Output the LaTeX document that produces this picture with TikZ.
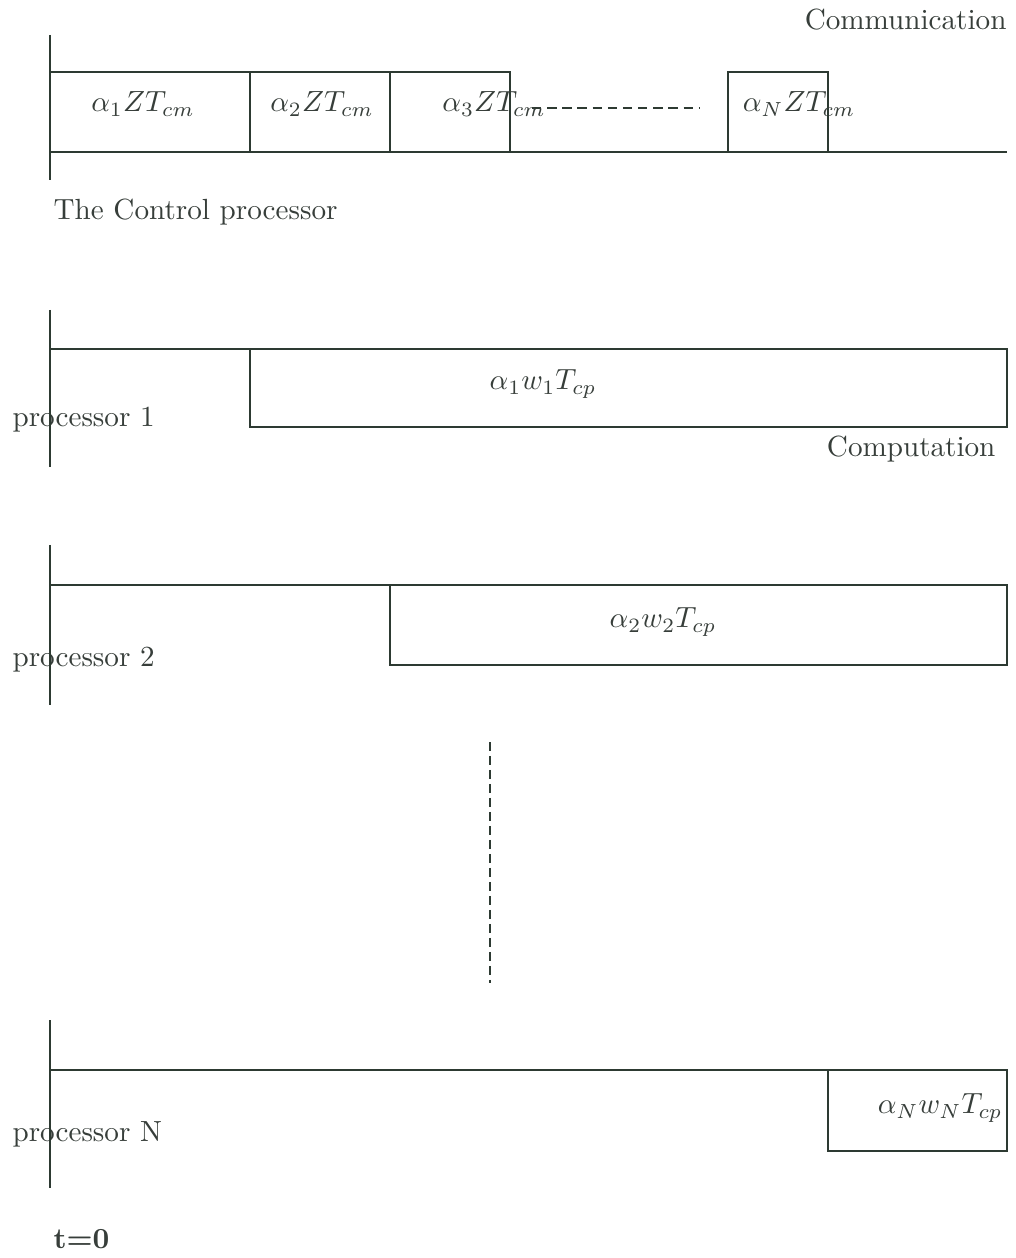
\documentclass[tikz,border=0pt]{standalone}
\usepackage{amsmath}
\begin{document}
\begin{tikzpicture}[x=0.343pt,y=-0.343pt,
  ln/.style={line width=0.6pt,draw=linecol},
  lbl/.style={text=txtcol,inner sep=0pt},
  ]
\definecolor{linecol}{RGB}{45,58,50}
\definecolor{txtcol}{RGB}{55,62,58}
\useasboundingbox (0,0) rectangle (1015,1258);
% ---------- Control processor ----------
\node[lbl,anchor=base east] (comm) at (1007,30) {Communication};
\draw[ln] (50,72) -- (510,72) -- (510,152);
\draw[ln] (250,72) -- (250,152);
\draw[ln] (390,72) -- (390,152);
\draw[ln] (728,152) -- (728,72) -- (828,72) -- (828,152);
\draw[ln] (50,152) -- (1007,152);
\draw[ln,dash pattern=on 3.2pt off 2pt] (532,108) -- (700,108);
\node[lbl] (c1) at (143,104) {$\alpha_1ZT_{cm}$};
\node[lbl] (c2) at (322,104) {$\alpha_2ZT_{cm}$};
\node[lbl] (c3) at (494,104) {$\alpha_3ZT_{cm}$};
\node[lbl] (cN) at (799,104) {$\alpha_NZT_{cm}$};
\draw[ln] (50,35) -- (50,180);
\node[lbl,anchor=base west] (ctrl) at (53,220) {The Control processor};
% ---------- processor 1 ----------
\draw[ln] (50,349) -- (1007,349) -- (1007,427) -- (250,427) -- (250,349);
\node[lbl] (p1box) at (543,384) {$\alpha_1w_1T_{cp}$};
\node[lbl,anchor=base west] (p1) at (12,427) {processor 1};
\draw[ln] (50,310) -- (50,467);
\node[lbl,anchor=base east] (comp) at (996,457) {Computation};
% ---------- processor 2 ----------
\draw[ln] (50,585) -- (1007,585) -- (1007,665) -- (390,665) -- (390,585);
\node[lbl] (p2box) at (663,622) {$\alpha_2w_2T_{cp}$};
\node[lbl,anchor=base west] (p2) at (12,666) {processor 2};
\draw[ln] (50,545) -- (50,705);
% ---------- vertical dots ----------
\draw[ln,dash pattern=on 3pt off 1.8pt] (490,742) -- (490,983);
% ---------- processor N ----------
\draw[ln] (50,1070) -- (1007,1070) -- (1007,1151) -- (828,1151) -- (828,1070);
\node[lbl,anchor=east] (pNbox) at (1003,1108) {$\alpha_Nw_NT_{cp}$};
\node[lbl,anchor=base west] (pN) at (12,1141) {processor N};
\draw[ln] (50,1020) -- (50,1188);
\node[lbl,anchor=base west] (t0) at (53,1248) {\textbf{t=0}};
\end{tikzpicture}
\end{document}
